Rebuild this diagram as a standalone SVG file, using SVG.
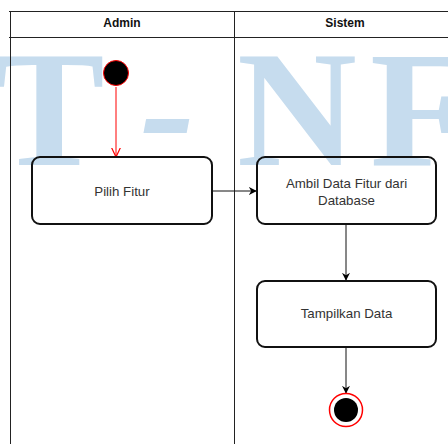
<svg xmlns="http://www.w3.org/2000/svg" width="448" height="444" viewBox="0 0 448 444">
  <defs>
    <marker id="arrowBlack" viewBox="0 0 10 10" refX="9" refY="5" markerWidth="8" markerHeight="8" markerUnits="userSpaceOnUse" orient="auto">
      <path d="M0,0 L10,5 L0,10 L3,5 Z" fill="#000"/>
    </marker>
    <marker id="arrowRed" viewBox="0 0 10 10" refX="9.5" refY="5" markerWidth="10" markerHeight="10" markerUnits="userSpaceOnUse" orient="auto">
      <path d="M0,0.5 L9.5,5 L0,9.5" fill="none" stroke="#ff0000" stroke-width="1.2"/>
    </marker>
  </defs>
  <style>
    .lane { stroke: #222; stroke-width: 1; fill: none; }
    .hdr { font-family: "Liberation Sans", Arial, sans-serif; font-size: 12px; font-weight: bold; fill: #111; text-anchor: middle; }
    .act { fill: none; stroke: #111; stroke-width: 2; }
    .lbl { font-family: "Liberation Sans", Arial, sans-serif; font-size: 13.3px; fill: #333; text-anchor: middle; }
    .edge { stroke: #111; stroke-width: 1; fill: none; }
    .mark { font-family: "Liberation Serif", "Times New Roman", serif; font-size: 166px; font-weight: bold; fill: #c6dcee; }
  </style>

  <rect width="448" height="444" fill="#fff"/>

  <!-- background mark -->
  <text class="mark" y="165"><tspan x="-6">T</tspan><tspan x="140" font-style="italic">-</tspan><tspan x="237">N</tspan><tspan x="370">F</tspan></text>

  <!-- swimlanes -->
  <g id="lanes">
    <line class="lane" x1="9" y1="11.5" x2="448" y2="11.5"/>
    <line class="lane" x1="9" y1="37.5" x2="448" y2="37.5"/>
    <line class="lane" x1="10.5" y1="11" x2="10.5" y2="444"/>
    <line class="lane" x1="234.5" y1="11" x2="234.5" y2="444" stroke="#555"/>
    <text class="hdr" x="122" y="27">Admin</text>
    <text class="hdr" x="345" y="27">Sistem</text>
  </g>

  <!-- connectors -->
  <g id="connectors">
    <line x1="116" y1="87" x2="116" y2="157" stroke="#ff0000" stroke-width="1" marker-end="url(#arrowRed)"/>
    <line class="edge" x1="212" y1="191" x2="256" y2="191" marker-end="url(#arrowBlack)"/>
    <line class="edge" x1="346" y1="224" x2="346" y2="280" marker-end="url(#arrowBlack)"/>
    <line class="edge" x1="346" y1="347" x2="346" y2="393" marker-end="url(#arrowBlack)"/>
  </g>

  <g id="start">
    <circle cx="116" cy="73" r="12.5" fill="#000" stroke="#ff0000" stroke-width="1"/>
  </g>

  <g id="pilih-fitur">
    <rect class="act" x="32" y="157" width="180" height="67" rx="8"/>
    <text class="lbl" x="122" y="195.5">Pilih Fitur</text>
  </g>

  <g id="ambil-data">
    <rect class="act" x="257" y="157" width="179" height="67" rx="8"/>
    <text class="lbl" x="346.5" y="188">Ambil Data Fitur dari</text>
    <text class="lbl" x="346.5" y="205">Database</text>
  </g>

  <g id="tampilkan-data">
    <rect class="act" x="257" y="281" width="179" height="66" rx="8"/>
    <text class="lbl" x="346.5" y="318">Tampilkan Data</text>
  </g>

  <g id="end">
    <circle cx="346" cy="410" r="16.5" fill="#fff" stroke="#ff0000" stroke-width="1.5"/>
    <circle cx="346" cy="410" r="12" fill="#000"/>
  </g>
</svg>
